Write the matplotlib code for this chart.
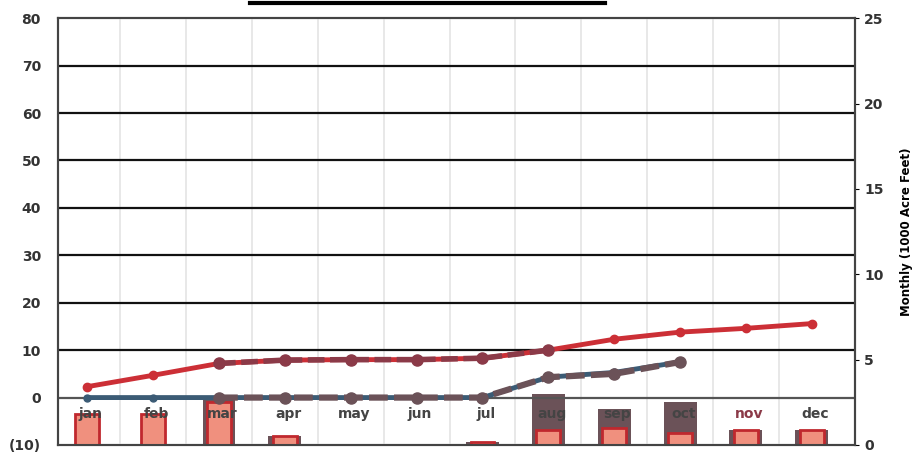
import numpy as np
import matplotlib.pyplot as plt
from matplotlib.lines import Line2D

months = ['jan', 'feb', 'mar', 'apr', 'may', 'jun', 'jul', 'aug', 'sep', 'oct', 'nov', 'dec']

# cumulative (left axis)
red_line = [2.3, 4.7, 7.2, 7.9, 8.0, 8.0, 8.3, 10.0, 12.3, 13.8, 14.6, 15.6]
blue_line = [0, 0, 0, 0, 0, 0, 0, 4.3, 5.3, 7.5, None, None]
# dark overlay seen on the scan
dark_red = [None, None, 7.2, 7.9, 8.0, 8.0, 8.3, 10.0, None, None, None, None]
dark_blue = [None, None, 0, 0, 0, 0, 0, 4.3, 5.0, 7.5, None, None]

# monthly (right axis, 1000 acre feet)
monthly = [1.8, 1.8, 2.5, 0.5, 0, 0, 0.2, 0.9, 1.0, 0.7, 0.9, 0.9]
dark_bars = [0, 0, 2.7, 0.5, 0, 0, 0.2, 3.0, 2.1, 2.5, 0.9, 0.9]

left_ticks = [-10, 0, 10, 20, 30, 40, 50, 60, 70, 80]
left_labels = ['(10)', '0', '10', '20', '30', '40', '50', '60', '70', '80']
right_ticks = [0, 5, 10, 15, 20, 25]

def arr(v):
    return np.array([np.nan if a is None else a for a in v], dtype=float)

x = np.arange(12)
fig = plt.figure(figsize=(9.15, 4.55), dpi=100)
ax = fig.add_axes([0.063, 0.022, 0.871, 0.938])
ax2 = ax.twinx()

ax.set_xlim(-0.45, 11.65)
ax.set_ylim(-10, 80)
ax2.set_ylim(0, 25)

# grid
for v in range(10, 80, 10):
    ax.axhline(v, color='#111111', lw=1.6, zorder=1)
ax.axhline(0, color='#555555', lw=1.6, zorder=1)
for b in np.arange(0.5, 11.5, 1):
    ax.axvline(b, color='#e4e4e4', lw=1.2, zorder=0)

# bars on right axis
ax2.bar(x, dark_bars, width=0.5, color='#6b5258', zorder=2)
ax2.bar(x, monthly, width=0.36, color='#f0907e', edgecolor='#c0282e', lw=2, zorder=3)

# lines on left axis (drawn above bars)
ax.set_zorder(ax2.get_zorder() + 1)
ax.patch.set_visible(False)
ax.plot(x, arr(red_line), color='#cc2f36', lw=3.5, marker='o', ms=6, zorder=4)
ax.plot(x, arr(blue_line), color='#3b5b75', lw=3.5, marker='o', ms=5, zorder=4)
ax.plot(x, arr(dark_red), color='#8b3a48', lw=4, marker='o', ms=8, ls=(0, (3, 1)), zorder=5)
ax.plot(x, arr(dark_blue), color='#6b5258', lw=4.5, marker='o', ms=8, ls=(0, (3, 1)), zorder=5)

for i, m in enumerate(months):
    ax.text(i + 0.05, -3.5, m, ha='center', va='center', fontsize=10, fontweight='bold',
            color='#8b3a48' if m == 'nov' else '#444444', zorder=6)

ax.set_xticks([])
ax.set_yticks(left_ticks)
ax.set_yticklabels(left_labels, fontsize=10, fontweight='bold', color='#333333')
ax.tick_params(axis='y', length=0, pad=12)
ax2.set_yticks(right_ticks)
ax2.set_yticklabels([str(t) for t in right_ticks], fontsize=10, fontweight='bold', color='#333333')
ax2.tick_params(axis='y', length=3, pad=4)
ax2.set_ylabel('Monthly (1000 Acre Feet)', fontsize=8.5, fontweight='bold', labelpad=12)

for a in (ax, ax2):
    for s in a.spines.values():
        s.set_color('#444444')
        s.set_linewidth(1.5)

# top edge of the cut-off title box
fig.add_artist(Line2D([250 / 915, 605 / 915], [1 - 3 / 455] * 2, color='black', lw=3))

fig.savefig('out.png')
